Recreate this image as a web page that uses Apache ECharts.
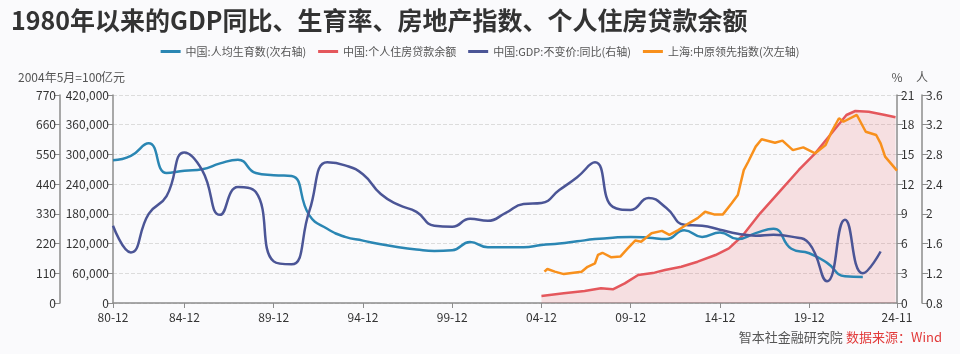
<!DOCTYPE html>
<html>
<head>
<meta charset="utf-8">
<script src="https://cdn.jsdelivr.net/npm/echarts@6/dist/echarts.min.js"></script>
<style>
  html, body { margin: 0; padding: 0; background: #fafafc; }
  #chart { width: 960px; height: 354px; }
</style>
</head>
<body>
<div id="chart"></div>
<script>
// annual series, plotted at December of each year
const fertYears = [1980, 1981, 1982, 1983, 1984, 1985, 1986, 1987, 1988, 1989, 1990, 1991, 1992, 1993, 1994, 1995, 1996, 1997, 1998, 1999, 2000, 2001, 2002, 2003, 2004, 2005, 2006, 2007, 2008, 2009, 2010, 2011, 2012, 2013, 2014, 2015, 2016, 2017, 2018, 2019, 2020, 2021, 2022];
const fertility = [2.72, 2.78, 2.95, 2.55, 2.58, 2.60, 2.68, 2.73, 2.55, 2.52, 2.51, 1.98, 1.80, 1.69, 1.64, 1.59, 1.55, 1.52, 1.50, 1.51, 1.62, 1.55, 1.55, 1.55, 1.58, 1.60, 1.63, 1.66, 1.68, 1.69, 1.68, 1.66, 1.78, 1.69, 1.75, 1.66, 1.74, 1.80, 1.53, 1.47, 1.34, 1.16, 1.15];

const gdpYears = [1980, 1981, 1982, 1983, 1984, 1985, 1986, 1987, 1988, 1989, 1990, 1991, 1992, 1993, 1994, 1995, 1996, 1997, 1998, 1999, 2000, 2001, 2002, 2003, 2004, 2005, 2006, 2007, 2008, 2009, 2010, 2011, 2012, 2013, 2014, 2015, 2016, 2017, 2018, 2019, 2020, 2021, 2022, 2023];
const gdp = [7.8, 5.1, 9.0, 10.8, 15.2, 13.4, 8.9, 11.7, 11.2, 4.2, 3.9, 9.3, 14.2, 13.9, 13.0, 11.0, 9.9, 9.2, 7.8, 7.7, 8.5, 8.3, 9.1, 10.0, 10.1, 11.4, 12.7, 14.2, 9.7, 9.4, 10.6, 9.6, 7.9, 7.8, 7.4, 7.0, 6.8, 6.9, 6.7, 6.0, 2.2, 8.4, 3.0, 5.2];

const mortDates = ['2004-12', '2006-03', '2007-05', '2008-04', '2008-12', '2009-08', '2010-05', '2011-04', '2011-11', '2012-10', '2013-09', '2014-09', '2015-06', '2016-03', '2017-03', '2018-06', '2019-05', '2020-04', '2021-03', '2022-01', '2022-07', '2023-04', '2024-03', '2024-10'];
const mortgage = [14100, 19600, 24200, 29600, 27600, 39700, 56500, 61300, 66600, 73300, 83400, 96900, 110400, 135300, 181100, 231600, 268600, 302300, 342600, 379600, 387700, 386300, 379600, 374900];

const centDates = ['2005-02', '2005-04', '2005-09', '2006-03', '2007-03', '2007-07', '2007-12', '2008-02', '2008-05', '2008-11', '2009-05', '2009-10', '2010-03', '2010-07', '2011-02', '2011-09', '2012-02', '2012-08', '2013-03', '2013-09', '2014-02', '2014-08', '2015-02', '2015-08', '2015-12', '2016-04', '2016-07', '2016-12', '2017-04', '2018-01', '2018-06', '2019-01', '2019-08', '2020-04', '2020-11', '2021-03', '2021-08', '2021-11', '2022-08', '2023-02', '2023-09', '2023-12', '2024-03', '2024-11'];
const centaline = [116, 126, 116, 107, 116, 134, 147, 178, 186, 169, 172, 202, 231, 227, 258, 267, 252, 270, 295, 314, 338, 328, 328, 370, 400, 492, 523, 579, 606, 593, 601, 566, 576, 554, 585, 634, 684, 671, 696, 634, 622, 591, 542, 490];

const xTicks = ['1980-12', '1984-12', '1989-12', '1994-12', '1999-12', '2004-12', '2009-12', '2014-12', '2019-12', '2024-11'];

// x is counted in months since 1980-12
const mi = (s) => {
  const [y, m] = s.split('-').map(Number);
  return (y - 1980) * 12 + (m - 12);
};
const miLabel = (v) => {
  const t = 1980 * 12 + 11 + Math.round(v);
  const y = Math.floor(t / 12);
  const m = (t % 12) + 1;
  return String(y).slice(2) + '-' + String(m).padStart(2, '0');
};
const pairs = (dates, vals) => dates.map((d, i) => [mi(d), vals[i]]);
const yearPairs = (years, vals) => years.map((y, i) => [mi(y + '-12'), vals[i]]);

const chart = echarts.init(document.getElementById('chart'));

const axisColor = '#8c8c8c';
const labelStyle = { color: '#333', fontSize: 12, fontFamily: 'Noto Sans CJK SC' };
const nameStyle = { color: '#555', fontSize: 12, fontFamily: 'Noto Sans CJK SC' };

function yAxis(extra) {
  return Object.assign({
    type: 'value',
    nameGap: 12,
    nameTextStyle: nameStyle,
    axisLine: { show: true, lineStyle: { color: axisColor, width: 1.5 } },
    axisTick: { show: true, length: 6, lineStyle: { color: axisColor } },
    axisLabel: Object.assign({ margin: 4 }, labelStyle),
    splitLine: { show: false }
  }, extra);
}

const tickVals = xTicks.map(mi);

const option = {
  backgroundColor: '#fafafc',
  textStyle: { fontFamily: 'Noto Sans CJK SC' },
  title: {
    text: '1980年以来的GDP同比、生育率、房地产指数、个人住房贷款余额',
    left: 6,
    top: 3,
    textStyle: { fontSize: 25, fontWeight: 'bold', color: '#333', fontFamily: 'Noto Sans CJK SC' }
  },
  legend: {
    top: 41,
    left: 'center',
    itemWidth: 20,
    itemHeight: 3,
    itemGap: 12,
    icon: 'rect',
    textStyle: { color: '#555', fontSize: 11 },
    data: ['中国:人均生育数(次右轴)', '中国:个人住房贷款余额', '中国:GDP:不变价:同比(右轴)', '上海:中原领先指数(次左轴)']
  },
  grid: { left: 113, right: 63, top: 95, bottom: 51 },
  xAxis: {
    type: 'value',
    min: mi('1980-12'),
    max: mi('2024-11'),
    axisLine: { onZero: false, lineStyle: { color: axisColor, width: 1.5 } },
    axisTick: { show: true, length: 5, customValues: tickVals, lineStyle: { color: axisColor } },
    axisLabel: Object.assign({
      margin: 8,
      customValues: tickVals,
      formatter: miLabel
    }, labelStyle),
    splitLine: { show: false }
  },
  yAxis: [
    yAxis({
      position: 'left', name: '亿元', min: 0, max: 420000, interval: 60000,
      axisLabel: Object.assign({ margin: 4, formatter: (v) => v.toLocaleString('en-US') }, labelStyle),
      splitLine: { show: true, lineStyle: { color: '#dcdcdc', type: 'dashed' } }
    }),
    yAxis({ position: 'left', offset: 53, name: '2004年5月=100', min: 0, max: 770, interval: 110 }),
    yAxis({ position: 'right', name: '%', min: 0, max: 21, interval: 3 }),
    yAxis({ position: 'right', offset: 25, name: '人', min: 0.8, max: 3.6, interval: 0.4 })
  ],
  series: [
    {
      name: '中国:人均生育数(次右轴)',
      type: 'line',
      yAxisIndex: 3,
      smooth: true,
      symbol: 'none',
      lineStyle: { color: '#2a86b3', width: 2.5 },
      itemStyle: { color: '#2a86b3' },
      data: yearPairs(fertYears, fertility)
    },
    {
      name: '中国:个人住房贷款余额',
      type: 'line',
      yAxisIndex: 0,
      z: 1,
      symbol: 'none',
      lineStyle: { color: '#e4575c', width: 2.5 },
      itemStyle: { color: '#e4575c' },
      areaStyle: { color: 'rgba(228, 87, 96, 0.24)' },
      data: pairs(mortDates, mortgage)
    },
    {
      name: '中国:GDP:不变价:同比(右轴)',
      type: 'line',
      yAxisIndex: 2,
      smooth: true,
      symbol: 'none',
      lineStyle: { color: '#4b5596', width: 2.5 },
      itemStyle: { color: '#4b5596' },
      data: yearPairs(gdpYears, gdp)
    },
    {
      name: '上海:中原领先指数(次左轴)',
      type: 'line',
      yAxisIndex: 1,
      symbol: 'none',
      lineStyle: { color: '#f8901c', width: 2.5 },
      itemStyle: { color: '#f8901c' },
      data: pairs(centDates, centaline)
    }
  ],
  graphic: [
    {
      type: 'text',
      right: 18,
      top: 331,
      style: {
        text: '{a|智本社金融研究院} {b|数据来源：Wind}',
        rich: {
          a: { fill: '#555', fontSize: 13, fontFamily: 'Noto Sans CJK SC' },
          b: { fill: '#e23b3b', fontSize: 13, fontFamily: 'Noto Sans CJK SC' }
        }
      }
    }
  ]
};

chart.setOption(option);
</script>
</body>
</html>
